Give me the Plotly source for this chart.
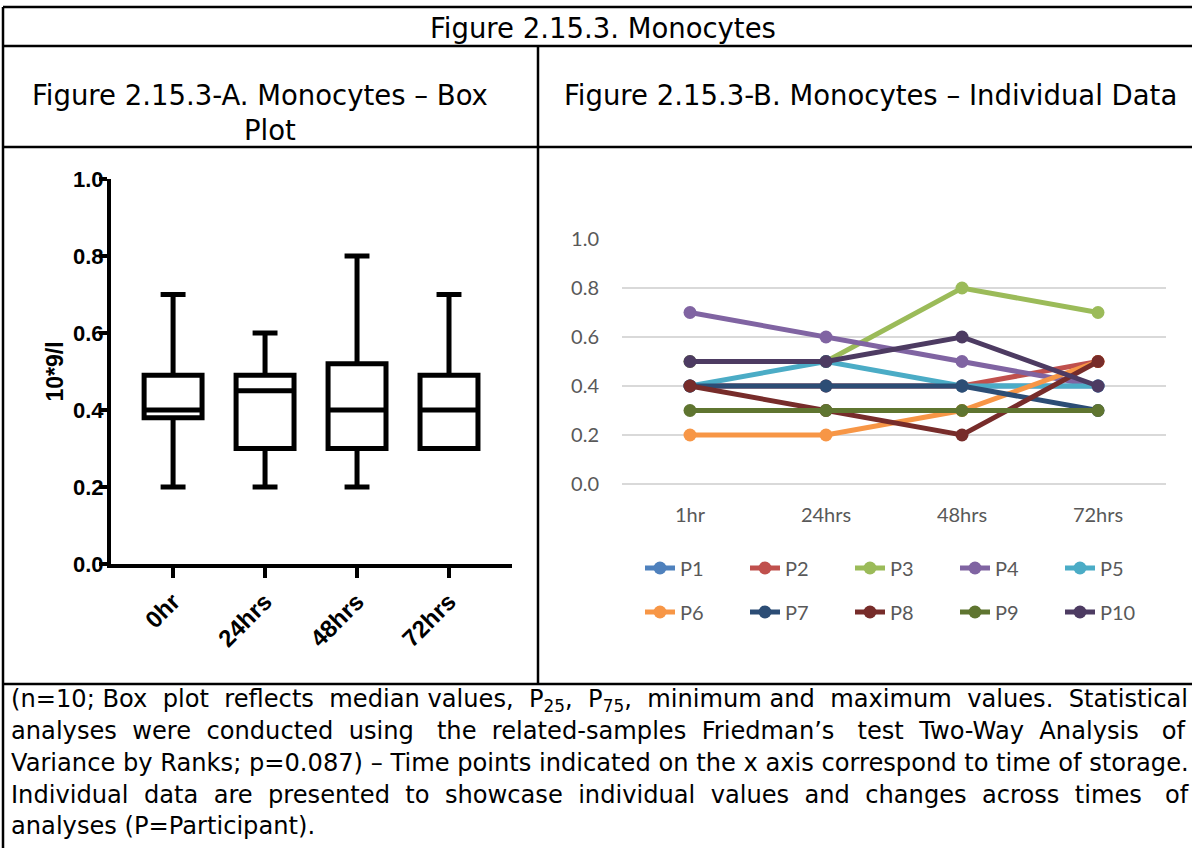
import plotly.graph_objects as go

W, H = 1192, 848

# ---- Box plot summary (10^9/l) ----
box_times = ["0hr", "24hrs", "48hrs", "72hrs"]
box_min = [0.2, 0.2, 0.2, 0.3]
box_q1 = [0.38, 0.3, 0.3, 0.3]
box_median = [0.4, 0.45, 0.4, 0.4]
box_q3 = [0.49, 0.49, 0.52, 0.49]
box_max = [0.7, 0.6, 0.8, 0.7]

# ---- Individual participant data ----
line_times = ["1hr", "24hrs", "48hrs", "72hrs"]
participants = ["P1", "P2", "P3", "P4", "P5", "P6", "P7", "P8", "P9", "P10"]
values = [
    [0.4, 0.4, 0.4, 0.4],   # P1
    [0.4, 0.4, 0.4, 0.5],   # P2
    [0.5, 0.5, 0.8, 0.7],   # P3
    [0.7, 0.6, 0.5, 0.4],   # P4
    [0.4, 0.5, 0.4, 0.4],   # P5
    [0.2, 0.2, 0.3, 0.5],   # P6
    [0.4, 0.4, 0.4, 0.3],   # P7
    [0.4, 0.3, 0.2, 0.5],   # P8
    [0.3, 0.3, 0.3, 0.3],   # P9
    [0.5, 0.5, 0.6, 0.4],   # P10
]
colors = ["#4F81BD", "#C0504D", "#9BBB59", "#8064A2", "#4BACC6",
          "#F79646", "#2C4D75", "#772C2A", "#5F7530", "#4D3B62"]

y_ticks = [0.0, 0.2, 0.4, 0.6, 0.8, 1.0]

title_main = "Figure 2.15.3. Monocytes"
title_a_1 = "Figure 2.15.3-A. Monocytes – Box"
title_a_2 = "Plot"
title_b = "Figure 2.15.3-B. Monocytes – Individual Data"
caption_lines = [
    "(n=10; Box plot reflects median values, P<sub>25</sub>, P<sub>75</sub>, minimum and maximum values. Statistical",
    "analyses were conducted using the related-samples Friedman’s test Two-Way Analysis of",
    "Variance by Ranks; p=0.087) – Time points indicated on the x axis correspond to time of storage.",
    "Individual data are presented to showcase individual values and changes across times of",
    "analyses (P=Participant).",
]
# extra non-breaking spaces spread over the word gaps of each caption line
caption_extra = [9, 13, 0, 13, 0]


def px_x(p):
    return p / W


def px_y(p):
    return 1 - p / H


def justify(text, extra):
    """Widen a line by spreading `extra` non-breaking spaces over its gaps."""
    words = text.split(" ")
    gaps = len(words) - 1
    if gaps <= 0 or extra <= 0:
        return text
    out = words[0]
    for i, w in enumerate(words[1:]):
        n = (extra * (i + 1)) // gaps - (extra * i) // gaps
        out += " " + "\u00a0" * n + w
    return out


fig = go.Figure()

# Box plot (panel A)
fig.add_trace(go.Box(
    x=box_times, q1=box_q1, median=box_median, q3=box_q3,
    lowerfence=box_min, upperfence=box_max,
    xaxis="x", yaxis="y",
    fillcolor="white", line=dict(color="black", width=5),
    whiskerwidth=0.43, width=0.63, boxpoints=False,
    showlegend=False, hoverinfo="skip",
))

# Participant lines (panel B)
for i, (name, vals, col) in enumerate(zip(participants, values, colors)):
    fig.add_trace(go.Scatter(
        x=line_times, y=vals, name=name, mode="lines+markers",
        xaxis="x2", yaxis="y2",
        line=dict(color=col, width=5), marker=dict(color=col, size=13),
        legend="legend" if i < 5 else "legend2",
        cliponaxis=False,
    ))

bold_font = "Liberation Sans, Arial"
excel_font = "Lato, Calibri, sans-serif"
legend_common = dict(
    orientation="h", xanchor="left", yanchor="middle",
    entrywidth=60, entrywidthmode="pixels", itemwidth=30,
    font=dict(family=excel_font, size=20, color="#595959"),
    bgcolor="rgba(0,0,0,0)", borderwidth=0, tracegroupgap=0,
)

fig.update_layout(
    width=W, height=H, margin=dict(l=0, r=0, t=0, b=0, autoexpand=False),
    paper_bgcolor="white", plot_bgcolor="white",
    xaxis=dict(
        domain=[px_x(111), px_x(512)], range=[-0.675, 3.685], anchor="y",
        showline=True, linecolor="black", linewidth=4,
        ticks="outside", ticklen=10, tickwidth=4, tickcolor="black",
        tickangle=-45, showgrid=False, zeroline=False,
        tickfont=dict(family=bold_font, size=24, color="black", weight="bold"),
    ),
    yaxis=dict(
        domain=[px_y(564), px_y(179)], range=[0, 1], anchor="x",
        showline=True, linecolor="black", linewidth=4,
        ticks="outside", ticklen=8, tickwidth=4, tickcolor="black",
        tickvals=y_ticks, tickformat=".1f", showgrid=False, zeroline=False,
        ticklabelstandoff=-9,
        tickfont=dict(family=bold_font, size=22, color="black", weight="bold"),
        title=dict(text="10*9/l", standoff=4,
                   font=dict(family=bold_font, size=23, color="black", weight="bold")),
    ),
    xaxis2=dict(
        domain=[px_x(622), px_x(1166)], range=[-0.5, 3.5], anchor="y2",
        showline=False, ticks="", showgrid=False, zeroline=False,
        ticklabelstandoff=17,
        tickfont=dict(family=excel_font, size=20, color="#595959"),
    ),
    yaxis2=dict(
        domain=[px_y(484), px_y(239)], range=[0, 1], anchor="x2",
        tickvals=y_ticks, tickformat=".1f",
        showgrid=True, gridcolor="#D9D9D9", gridwidth=2,
        zeroline=True, zerolinecolor="#D9D9D9", zerolinewidth=2,
        showline=False, ticks="", ticklabelstandoff=22,
        tickfont=dict(family=excel_font, size=20, color="#595959"),
    ),
    legend=dict(x=px_x(640), y=px_y(568), **legend_common),
    legend2=dict(x=px_x(640), y=px_y(612), **legend_common),
    showlegend=True,
)

# Table borders
border = dict(color="black", width=2.5)
shapes = [
    dict(type="line", x0=px_x(3), x1=1, y0=px_y(7), y1=px_y(7)),
    dict(type="line", x0=px_x(3), x1=1, y0=px_y(46), y1=px_y(46)),
    dict(type="line", x0=px_x(3), x1=1, y0=px_y(147), y1=px_y(147)),
    dict(type="line", x0=px_x(3), x1=1, y0=px_y(684), y1=px_y(684)),
    dict(type="line", x0=px_x(3), x1=px_x(3), y0=px_y(7), y1=0),
    dict(type="line", x0=px_x(538), x1=px_x(538), y0=px_y(46), y1=px_y(684)),
]
for s in shapes:
    s.update(xref="paper", yref="paper", line=border)
fig.update_layout(shapes=shapes)

text_font = "DejaVu Sans, Verdana, sans-serif"
head_font = dict(family=text_font, size=27.5, color="black")
annotations = [
    dict(text=title_main, x=px_x(603), y=px_y(28)),
    dict(text=title_a_1, x=px_x(260), y=px_y(95)),
    dict(text=title_a_2, x=px_x(270), y=px_y(130)),
    dict(text=title_b, x=px_x(870), y=px_y(95)),
]
for a in annotations:
    a.update(xref="paper", yref="paper", showarrow=False, xanchor="center",
             yanchor="middle", font=head_font)

cap_font = dict(family=text_font, size=24.15, color="black")
cap_y = [700, 731, 763, 795, 826]
for line, extra, yy in zip(caption_lines, caption_extra, cap_y):
    annotations.append(dict(
        text=justify(line, extra), x=px_x(9), y=px_y(yy), xref="paper", yref="paper",
        showarrow=False, xanchor="left", yanchor="middle", font=cap_font,
    ))
fig.update_layout(annotations=annotations)

fig.write_html("out.html")
